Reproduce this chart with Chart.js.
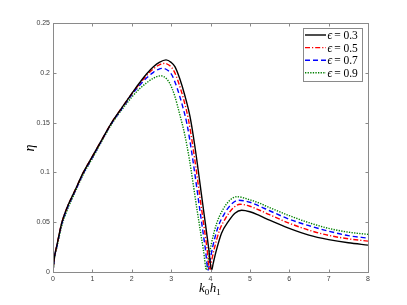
<!DOCTYPE html>
<html>
<head>
<meta charset="utf-8">
<script src="https://cdn.jsdelivr.net/npm/chart.js@4/dist/chart.umd.min.js"></script>
<style>
html, body { margin: 0; padding: 0; background: #fff; }
</style>
</head>
<body>
<canvas id="myChart" width="407" height="305"></canvas>
<script>
// epsilon values of the four curves
var epsilons = [0.3, 0.5, 0.7, 0.9];

// k0h1 / eta, one pair of arrays per curve
var k03 = [0, 0.03, 0.1, 0.22, 0.35, 0.56, 0.77, 1.0, 1.25, 1.49, 1.75, 2.0, 2.2, 2.38, 2.55, 2.7, 2.87, 3.0, 3.1, 3.22, 3.35, 3.48, 3.6, 3.8, 3.95, 4.03, 4.07, 4.15, 4.28, 4.45, 4.62, 4.79, 5.0, 5.25, 5.5, 6.0, 6.5, 7.0, 7.5, 8.0];
var eta03 = [0, 0.013, 0.027, 0.049, 0.064, 0.082, 0.100, 0.116, 0.1335, 0.150, 0.165, 0.179, 0.190, 0.199, 0.206, 0.2105, 0.213, 0.2105, 0.206, 0.194, 0.177, 0.156, 0.127, 0.069, 0.025, 0.002, 0.009, 0.022, 0.039, 0.0505, 0.059, 0.062, 0.0605, 0.0565, 0.052, 0.0438, 0.037, 0.0325, 0.0293, 0.027];

var k05 = [0, 0.03, 0.1, 0.22, 0.35, 0.56, 0.77, 1.0, 1.25, 1.49, 1.75, 2.0, 2.2, 2.38, 2.55, 2.7, 2.84, 2.97, 3.07, 3.19, 3.32, 3.44, 3.56, 3.76, 3.91, 3.98, 4.02, 4.1, 4.23, 4.4, 4.57, 4.75, 5.0, 5.25, 5.5, 6.0, 6.5, 7.0, 7.5, 8.0];
var eta05 = [0, 0.013, 0.027, 0.049, 0.064, 0.082, 0.100, 0.116, 0.1335, 0.150, 0.165, 0.179, 0.189, 0.1975, 0.204, 0.208, 0.2095, 0.207, 0.202, 0.190, 0.173, 0.153, 0.124, 0.067, 0.024, 0.002, 0.010, 0.024, 0.042, 0.055, 0.064, 0.068, 0.066, 0.062, 0.0575, 0.049, 0.042, 0.0368, 0.0333, 0.031];

var k07 = [0, 0.03, 0.1, 0.22, 0.35, 0.56, 0.77, 1.0, 1.25, 1.49, 1.75, 2.0, 2.2, 2.38, 2.55, 2.68, 2.8, 2.93, 3.03, 3.15, 3.28, 3.4, 3.52, 3.72, 3.87, 3.94, 3.98, 4.06, 4.19, 4.36, 4.53, 4.71, 5.0, 5.25, 5.5, 6.0, 6.5, 7.0, 7.5, 8.0];
var eta07 = [0, 0.0125, 0.026, 0.048, 0.063, 0.081, 0.099, 0.115, 0.133, 0.1495, 0.164, 0.178, 0.1875, 0.195, 0.2005, 0.2035, 0.2045, 0.202, 0.197, 0.185, 0.168, 0.149, 0.121, 0.065, 0.023, 0.002, 0.010, 0.026, 0.045, 0.059, 0.068, 0.072, 0.070, 0.066, 0.0615, 0.053, 0.0465, 0.041, 0.0365, 0.034];

var k09 = [0, 0.03, 0.1, 0.22, 0.35, 0.56, 0.77, 1.0, 1.25, 1.49, 1.75, 2.0, 2.2, 2.38, 2.55, 2.74, 2.87, 2.97, 3.09, 3.22, 3.34, 3.46, 3.66, 3.82, 3.9, 3.94, 4.02, 4.15, 4.32, 4.49, 4.67, 5.0, 5.25, 5.5, 6.0, 6.5, 7.0, 7.5, 8.0];
var eta09 = [0, 0.012, 0.025, 0.046, 0.061, 0.080, 0.098, 0.114, 0.132, 0.1485, 0.163, 0.1755, 0.184, 0.190, 0.1945, 0.197, 0.1945, 0.189, 0.177, 0.158, 0.139, 0.114, 0.062, 0.022, 0.002, 0.011, 0.028, 0.048, 0.063, 0.072, 0.0756, 0.0725, 0.069, 0.0646, 0.0566, 0.0495, 0.0438, 0.040, 0.0378];

var xTicks = [0, 1, 2, 3, 4, 5, 6, 7, 8];
var yTickLabels = ['0', '0.05', '0.1', '0.15', '0.2', '0.25'];

function pts(kk, ee) {
    var out = [];
    for (var i = 0; i < kk.length; i++) {
        out.push({ x: kk[i], y: ee[i] });
    }
    return out;
}

var lineColors = ['#000000', '#ff0000', '#0000ff', '#008000'];
var lineDashes = [[], [5, 2, 1.2, 2], [5, 3], [1.3, 1.3]];
var kAll = [k03, k05, k07, k09];
var etaAll = [eta03, eta05, eta07, eta09];

var datasets = [];
for (var i = 0; i < epsilons.length; i++) {
    datasets.push({
        label: '\u03f5 = ' + epsilons[i],
        data: pts(kAll[i], etaAll[i]),
        borderColor: lineColors[i],
        borderDash: lineDashes[i],
        borderWidth: 1.4,
        pointRadius: 0,
        fill: false,
        cubicInterpolationMode: 'monotone'
    });
}

var framePlugin = {
    id: 'framePlugin',
    beforeDraw: function (chart) {
        var ctx = chart.ctx;
        ctx.save();
        ctx.fillStyle = '#fff';
        ctx.fillRect(0, 0, chart.width, chart.height);
        ctx.restore();
    },
    afterDraw: function (chart) {
        var ctx = chart.ctx, a = chart.chartArea;
        var xs = chart.scales.x, ys = chart.scales.y;
        var L = Math.round(a.left) + 0.5, R = Math.round(a.right) + 0.5;
        var T = Math.round(a.top) + 0.5, B = Math.round(a.bottom) + 0.5;
        ctx.save();
        ctx.strokeStyle = '#8a8a8a';
        ctx.lineWidth = 1;
        ctx.strokeRect(L, T, R - L, B - T);
        ctx.beginPath();
        xs.ticks.forEach(function (t) {
            var p = Math.round(xs.getPixelForValue(t.value)) + 0.5;
            ctx.moveTo(p, B); ctx.lineTo(p, B - 3);
            ctx.moveTo(p, T); ctx.lineTo(p, T + 3);
        });
        ys.ticks.forEach(function (t) {
            var p = Math.round(ys.getPixelForValue(t.value)) + 0.5;
            ctx.moveTo(L, p); ctx.lineTo(L + 3, p);
            ctx.moveTo(R, p); ctx.lineTo(R - 3, p);
        });
        ctx.stroke();

        // axis titles
        ctx.fillStyle = '#000';
        ctx.textBaseline = 'alphabetic';
        var cx = 199;
        ctx.font = 'italic 13px "Liberation Serif"';
        ctx.fillText('k', cx, 292);
        cx += ctx.measureText('k').width;
        ctx.font = '9px "Liberation Serif"';
        ctx.fillText('0', cx, 295);
        cx += ctx.measureText('0').width + 0.5;
        ctx.font = 'italic 13px "Liberation Serif"';
        ctx.fillText('h', cx, 292);
        cx += ctx.measureText('h').width;
        ctx.font = '9px "Liberation Serif"';
        ctx.fillText('1', cx, 295);

        ctx.save();
        ctx.translate(34, 148);
        ctx.rotate(-Math.PI / 2);
        ctx.font = 'italic 14px "Liberation Serif"';
        ctx.textAlign = 'center';
        ctx.fillText('\u03b7', 0, 0);
        ctx.restore();

        // legend box
        var lx = 303.5, ly = 28.5, lw = 59, lh = 53;
        ctx.fillStyle = '#fff';
        ctx.fillRect(lx, ly, lw, lh);
        ctx.strokeStyle = '#8a8a8a';
        ctx.strokeRect(lx, ly, lw, lh);
        chart.data.datasets.forEach(function (ds, i) {
            var y = 35 + i * 12.6;
            ctx.save();
            ctx.strokeStyle = ds.borderColor;
            ctx.lineWidth = 1.4;
            ctx.setLineDash(ds.borderDash);
            ctx.beginPath();
            ctx.moveTo(305, y); ctx.lineTo(326, y);
            ctx.stroke();
            ctx.restore();
            ctx.fillStyle = '#000';
            ctx.textBaseline = 'middle';
            ctx.textAlign = 'left';
            var tx = 327.5;
            ctx.font = 'italic 11.5px "Liberation Serif"';
            ctx.fillText('\u03f5', tx, y + 1);
            tx += ctx.measureText('\u03f5').width + 2;
            ctx.font = '11.5px "Liberation Serif"';
            ctx.fillText('= ' + epsilons[i], tx, y + 1);
        });
        ctx.restore();
    }
};

var ctx = document.getElementById('myChart').getContext('2d');
var myChart = new Chart(ctx, {
    type: 'line',
    data: { datasets: datasets },
    options: {
        responsive: false,
        animation: false,
        devicePixelRatio: 1,
        layout: { padding: { left: 0, right: 39, top: 23, bottom: 0 } },
        plugins: {
            legend: { display: false },
            tooltip: { enabled: false }
        },
        scales: {
            x: {
                type: 'linear',
                min: 0,
                max: 8,
                afterBuildTicks: function (scale) {
                    scale.ticks = xTicks.map(function (v) { return { value: v }; });
                },
                grid: { display: false, drawTicks: false },
                border: { display: false },
                ticks: {
                    padding: 3,
                    color: '#404040',
                    font: { family: 'Liberation Sans', size: 7 },
                    maxRotation: 0,
                    callback: function (v) { return String(v); }
                },
                afterFit: function (scale) { scale.height = 33; }
            },
            y: {
                min: 0,
                max: 0.25,
                ticks: {
                    stepSize: 0.05,
                    padding: 3,
                    color: '#404040',
                    font: { family: 'Liberation Sans', size: 7 },
                    callback: function (v, idx) { return yTickLabels[idx]; }
                },
                grid: { display: false, drawTicks: false },
                border: { display: false },
                afterFit: function (scale) { scale.width = 53; }
            }
        }
    },
    plugins: [framePlugin]
});
</script>
</body>
</html>
